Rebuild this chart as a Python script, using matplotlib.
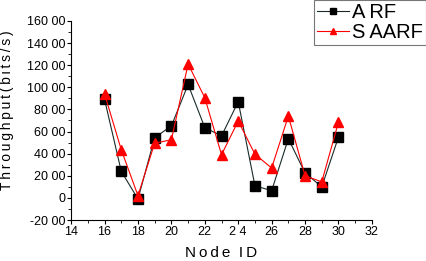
import matplotlib
matplotlib.use("Agg")
import matplotlib.pyplot as plt
from matplotlib.ticker import MultipleLocator

plt.rcParams['font.family'] = ['Liberation Sans', 'DejaVu Sans']

node_id = [16, 17, 18, 19, 20, 21, 22, 23, 24, 25, 26, 27, 28, 29, 30]
arf = [8900, 2400, -100, 5450, 6500, 10250, 6350, 5600, 8700, 1100, 650, 5350, 2250, 1000, 5500]
saarf = [9400, 4350, 200, 4950, 5250, 12100, 9050, 3900, 6950, 3950, 2700, 7400, 2000, 1450, 6850]

y_ticks = [-2000, 0, 2000, 4000, 6000, 8000, 10000, 12000, 14000, 16000]
y_labels = ["-20 00", "0", "20 00", "40 00", "60 00", "80 00", "100 00", "120 00", "140 00", "160 00"]
x_ticks = [14, 16, 18, 20, 22, 24, 26, 28, 30, 32]
x_labels = ["14", "16", "18", "20", "22", "2 4", "26", "28", "30", "32"]

thin = '\u2009'

fig = plt.figure(figsize=(4.26, 2.61), dpi=100)
ax = fig.add_axes([0.167, 0.157, 0.706, 0.763])

ax.plot(node_id, arf, color='#1a2a2a', lw=0.8, marker='s', ms=7, mfc='black', mec='black', label='A' + thin + 'RF')
ax.plot(node_id, saarf, color='red', lw=0.8, marker='^', ms=7, mfc='red', mec='red', label='S' + thin + 'AARF')

ax.set_xlim(14, 32)
ax.set_ylim(-2000, 16000)
ax.set_xticks(x_ticks)
ax.set_xticklabels(x_labels)
ax.set_yticks(y_ticks)
ax.set_yticklabels(y_labels)
ax.xaxis.set_minor_locator(MultipleLocator(1))
ax.yaxis.set_minor_locator(MultipleLocator(1000))
ax.tick_params(which='major', direction='out', length=3, width=0.8, labelsize=9, pad=1)
ax.tick_params(which='minor', direction='out', length=2, width=0.6)

ax.spines['top'].set_visible(False)
ax.spines['right'].set_visible(False)

ax.set_xlabel(thin.join('Node') + '  ' + thin.join('ID'), fontsize=11, labelpad=6)
ax.set_ylabel(thin.join('Throughput(bits/s)'), fontsize=10)
ax.yaxis.set_label_coords(-0.19, 0.55)

leg = fig.legend(loc='upper right', bbox_to_anchor=(1.0, 1.0), fontsize=14.5, frameon=True,
                 fancybox=False, borderpad=0.15, handlelength=1.6, handletextpad=0.15,
                 labelspacing=0.05, borderaxespad=0.0, markerscale=0.7)
leg.get_frame().set_edgecolor('#555555')
leg.get_frame().set_linewidth(0.8)

fig.savefig('out.png', dpi=100)
